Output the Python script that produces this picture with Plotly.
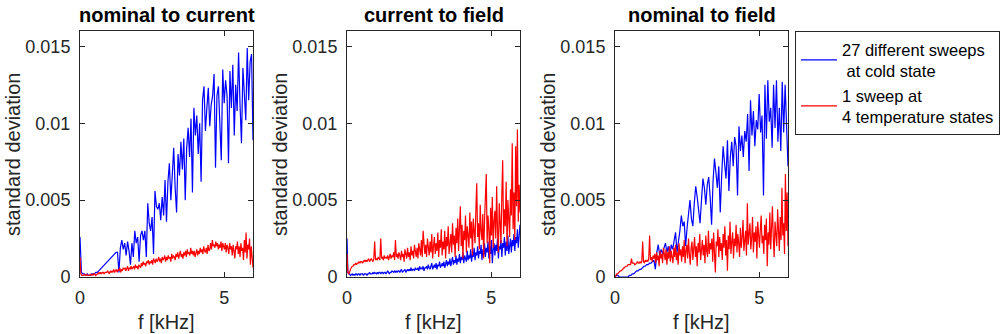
import numpy as np
import plotly.graph_objects as go

# Values, in units of 1e-4 (standard deviation)
# Blue series sampled every 0.05 kHz (0..6 kHz), red series every 0.03 kHz (0..6 kHz)
nc_blue = [26, 3, 2, 2, 1, 2, 1, 1, 2, 2,
           2, 3, 3, 4, 5, 6, 7, 8, 9, 10,
           11, 12, 13, 14, 15, 16, 16, 3, 19, 24,
           18, 22, 14, 23, 17, 8, 22, 13, 30, 22,
           26, 10, 27, 30, 24, 30, 13, 48, 35, 30,
           39, 15, 56, 46, 44, 48, 37, 52, 40, 63,
           36, 62, 74, 50, 66, 84, 58, 42, 80, 66,
           88, 70, 90, 50, 84, 97, 78, 103, 55, 110,
           92, 105, 80, 100, 62, 115, 124, 95, 110, 123,
           98, 112, 118, 132, 71, 118, 124, 100, 76, 135,
           113, 128, 118, 74, 134, 110, 138, 92, 125, 108,
           146, 112, 87, 136, 118, 102, 149, 115, 140, 145,
           89]

nc_red = [13,
          2, 1, 1, 1, 2, 1, 1, 2, 1, 1,
          1, 2, 1, 2, 1, 2, 2, 1, 2, 2,
          2, 3, 2, 3, 2, 3, 3, 2, 3, 3,
          3, 4, 3, 2, 4, 3, 4, 3, 5, 3,
          4, 5, 3, 5, 4, 6, 3, 5, 4, 6,
          5, 6, 4, 5, 7, 4, 6, 5, 7, 5,
          6, 7, 5, 8, 6, 7, 5, 8, 7, 6,
          9, 7, 10, 8, 9, 7, 10, 9, 11, 8,
          10, 9, 11, 8, 12, 10, 9, 12, 10, 11,
          13, 10, 12, 9, 13, 11, 12, 14, 10, 13,
          11, 14, 12, 13, 10, 15, 12, 14, 13, 11,
          15, 13, 16, 12, 14, 17, 13, 15, 12, 16,
          14, 17, 13, 18, 15, 16, 14, 19, 15, 17,
          14, 17, 13, 16, 18, 14, 17, 15, 19, 16,
          18, 15, 20, 17, 16, 19, 15, 21, 17, 18,
          22, 18, 24, 20, 21, 19, 23, 20, 22, 18,
          21, 19, 23, 17, 22, 20, 18, 22, 16, 21,
          19, 15, 22, 18, 20, 14, 21, 17, 12, 20,
          18, 23, 15, 20, 13, 22, 17, 19, 11, 24,
          16, 29, 12, 21, 18, 25, 8, 20, 14, 6]

cf_blue = [25,
           3, 2, 2, 1, 2, 2, 1, 2, 1, 2,
           2, 1, 2, 2, 1, 2, 2, 2, 1, 2,
           2, 2, 1, 2, 2, 3, 2, 2, 2, 3,
           2, 3, 2, 2, 3, 2, 3, 3, 2, 3,
           3, 2, 3, 3, 2, 3, 4, 3, 2, 3,
           3, 4, 3, 3, 4, 3, 4, 3, 4, 4,
           3, 4, 5, 3, 4, 4, 5, 3, 4, 5,
           4, 5, 4, 6, 4, 5, 5, 4, 6, 5,
           5, 6, 4, 7, 5, 6, 5, 7, 4, 6,
           6, 7, 5, 8, 6, 5, 7, 9, 5, 7,
           8, 6, 9, 5, 8, 7, 10, 6, 8, 9,
           7, 10, 6, 9, 11, 7, 10, 8, 12, 7,
           10, 13, 8, 11, 9, 14, 8, 12, 10, 15,
           9, 13, 11, 16, 9, 14, 12, 10, 17, 11,
           14, 12, 18, 10, 15, 13, 19, 11, 16, 14,
           20, 12, 17, 15, 21, 11, 18, 14, 22, 13,
           19, 16, 23, 12, 20, 15, 24, 9, 18, 22,
           14, 21, 17, 25, 12, 20, 18, 24, 13, 22,
           19, 26, 14, 23, 17, 27, 15, 21, 25, 16,
           24, 20, 28, 17, 26, 22, 31, 19, 27, 34]

cf_red = [15,
          3, 2, 3, 5, 6, 7, 7, 8, 8, 9,
          8, 9, 9, 10, 9, 10, 10, 9, 10, 11,
          10, 11, 10, 11, 12, 10, 11, 12, 11, 10,
          12, 23, 11, 12, 11, 13, 12, 11, 25, 12,
          13, 11, 14, 12, 13, 12, 14, 11, 13, 15,
          12, 14, 13, 16, 11, 24, 13, 15, 12, 16,
          14, 11, 17, 13, 15, 10, 18, 14, 12, 19,
          13, 16, 11, 20, 14, 17, 12, 21, 15, 13,
          19, 12, 22, 16, 14, 24, 13, 30, 17, 15,
          21, 13, 25, 18, 14, 23, 16, 28, 12, 20,
          26, 15, 22, 17, 29, 13, 24, 19, 31, 14,
          23, 18, 30, 12, 26, 20, 33, 15, 24, 28,
          16, 35, 21, 27, 13, 32, 22, 38, 17, 29,
          46, 20, 34, 12, 30, 24, 40, 16, 33, 27,
          19, 42, 25, 36, 14, 38, 29, 22, 44, 61,
          26, 35, 18, 47, 30, 24, 41, 12, 37, 50,
          67, 22, 40, 31, 9, 45, 27, 52, 19, 36,
          43, 25, 59, 30, 16, 48, 35, 22, 54, 76,
          28, 44, 33, 62, 20, 50, 38, 26, 57, 40,
          87, 31, 55, 24, 85, 46, 96, 36, 60, 42]

nf_blue = [0, 1, 1, 0, 0, 0, 0, 0, 0, 0,
           1, 1, 2, 2, 3, 4, 4, 5, 5, 6,
           7, 7, 8, 8, 9, 9, 10, 11, 5, 16,
           21, 14, 18, 15, 19, 22, 16, 20, 13, 21,
           18, 24, 29, 16, 22, 30, 40, 33, 36, 20,
           32, 43, 50, 38, 33, 48, 59, 52, 44, 35,
           50, 64, 58, 47, 60, 65, 52, 34, 62, 77,
           68, 58, 72, 42, 66, 85, 74, 64, 89, 56,
           78, 88, 72, 91, 85, 53, 98, 82, 92, 78,
           95, 88, 106, 69, 115, 92, 108, 85, 102, 96,
           119, 94, 105, 53, 125, 90, 128, 101, 110, 84,
           125, 97, 128, 88, 110, 82, 127, 94, 125, 100,
           72]

nf_red = [0,
          1, 2, 2, 3, 3, 4, 4, 5, 5, 6,
          6, 7, 7, 7, 8, 8, 8, 8, 12, 9,
          9, 9, 8, 9, 9, 10, 9, 9, 10, 9,
          10, 23, 10, 9, 11, 10, 11, 10, 12, 27,
          11, 13, 10, 14, 12, 15, 9, 16, 11, 14,
          7, 17, 12, 15, 9, 19, 13, 11, 18, 8,
          16, 12, 20, 10, 17, 14, 9, 19, 13, 21,
          11, 16, 8, 22, 14, 18, 10, 20, 13, 24,
          9, 17, 21, 12, 25, 15, 8, 19, 23, 11,
          18, 26, 13, 20, 7, 22, 16, 28, 11, 19,
          24, 14, 21, 9, 27, 17, 13, 30, 15, 22,
          18, 25, 10, 29, 16, 3, 23, 20, 31, 13,
          26, 17, 22, 11, 28, 19, 33, 14, 24, 4,
          27, 18, 36, 15, 23, 29, 12, 25, 20, 34,
          16, 28, 22, 13, 32, 19, 26, 37, 17, 24,
          30, 14, 48, 21, 27, 35, 18, 25, 39, 16,
          29, 23, 33, 12, 36, 26, 19, 31, 40, 22,
          27, 15, 34, 24, 38, 7, 29, 21, 42, 18,
          32, 46, 25, 13, 36, 28, 20, 44, 30, 17,
          39, 24, 58, 27, 35, 15, 67, 30, 55, 20]

titles = ["nominal to current", "current to field", "nominal to field"]
legend_names = ["27 different sweeps<br>\u00a0at cold state", "1 sweep at<br>4 temperature states"]
x_label = "f [kHz]"
y_label = "standard deviation"
y_tickvals = [0, 0.005, 0.01, 0.015]
y_ticktext = ["0", "0.005", "0.01", "0.015"]
x_tickvals = [0, 5]
x_ticktext = ["0", "5"]
F_MAX = 6.0
UNIT = 1e-4

W, H = 1003, 334
FONT = "Liberation Sans, Arial, Helvetica, sans-serif"
AX = "#262626"
BLUE = "#0000ff"
RED = "#ff0000"


def px_x(p):
    return p / W


def px_y(p):
    return 1 - p / H


panels = [(nc_blue, nc_red), (cf_blue, cf_red), (nf_blue, nf_red)]
x_px = [(80, 253), (347, 520), (615, 788)]
y_top, y_bot = 31, 277

fig = go.Figure()
for k, (b, r) in enumerate(panels):
    sfx = "" if k == 0 else str(k + 1)
    fb = np.linspace(0, F_MAX, len(b))
    fr = np.linspace(0, F_MAX, len(r))
    fig.add_trace(go.Scatter(x=fb, y=np.array(b) * UNIT, mode="lines",
                             line=dict(color=BLUE, width=1.2), name=legend_names[0],
                             showlegend=(k == 0), xaxis="x" + sfx, yaxis="y" + sfx))
    fig.add_trace(go.Scatter(x=fr, y=np.array(r) * UNIT, mode="lines",
                             line=dict(color=RED, width=1.2), name=legend_names[1],
                             showlegend=(k == 0), xaxis="x" + sfx, yaxis="y" + sfx))

layout = dict(template="none", width=W, height=H, autosize=False,
              margin=dict(l=0, r=0, t=0, b=0, pad=0, autoexpand=False),
              paper_bgcolor="white", plot_bgcolor="white",
              font=dict(family=FONT, color=AX),
              legend=dict(x=px_x(795), y=px_y(31), xanchor="left", yanchor="top",
                          bordercolor=AX, borderwidth=1, bgcolor="white",
                          font=dict(family=FONT, size=16.5, color="black"),
                          itemwidth=36, tracegroupgap=0, valign="middle"))

annotations = []
for k, (x0, x1) in enumerate(x_px):
    sfx = "" if k == 0 else str(k + 1)
    layout["xaxis" + sfx] = dict(domain=[px_x(x0), px_x(x1)], range=[0, F_MAX], anchor="y" + sfx,
                                 showline=True, linecolor=AX, linewidth=1, mirror="ticks",
                                 ticks="inside", ticklen=5, tickcolor=AX,
                                 tickvals=x_tickvals, ticktext=x_ticktext,
                                 tickfont=dict(size=18, color=AX, family=FONT),
                                 showgrid=False, zeroline=False, fixedrange=True,
                                 automargin=False, ticklabelstandoff=4)
    layout["yaxis" + sfx] = dict(domain=[px_y(y_bot), px_y(y_top)], range=[0, 0.016],
                                 anchor="x" + sfx,
                                 showline=True, linecolor=AX, linewidth=1, mirror="ticks",
                                 ticks="inside", ticklen=5, tickcolor=AX,
                                 tickvals=y_tickvals, ticktext=y_ticktext,
                                 tickfont=dict(size=18, color=AX, family=FONT),
                                 showgrid=False, zeroline=False, fixedrange=True,
                                 automargin=False, ticklabelstandoff=5)
    cx = px_x((x0 + x1) / 2)
    annotations.append(dict(text="<b>" + titles[k] + "</b>", x=cx, y=px_y(15),
                            xref="paper", yref="paper", showarrow=False,
                            xanchor="center", yanchor="middle",
                            font=dict(size=20, color="black", family=FONT)))
    annotations.append(dict(text=x_label, x=cx, y=px_y(322),
                            xref="paper", yref="paper", showarrow=False,
                            xanchor="center", yanchor="middle",
                            font=dict(size=20, color=AX, family=FONT)))
    annotations.append(dict(text=y_label, x=px_x(x0 - 67), y=px_y(155),
                            xref="paper", yref="paper", showarrow=False, textangle=-90,
                            xanchor="center", yanchor="middle",
                            font=dict(size=20, color=AX, family=FONT)))
layout["annotations"] = annotations
fig.update_layout(**layout)
fig.write_html("out.html",
               config={"displayModeBar": False, "staticPlot": True},
               post_script="document.body.style.margin='0px';document.body.style.overflow='hidden';")
